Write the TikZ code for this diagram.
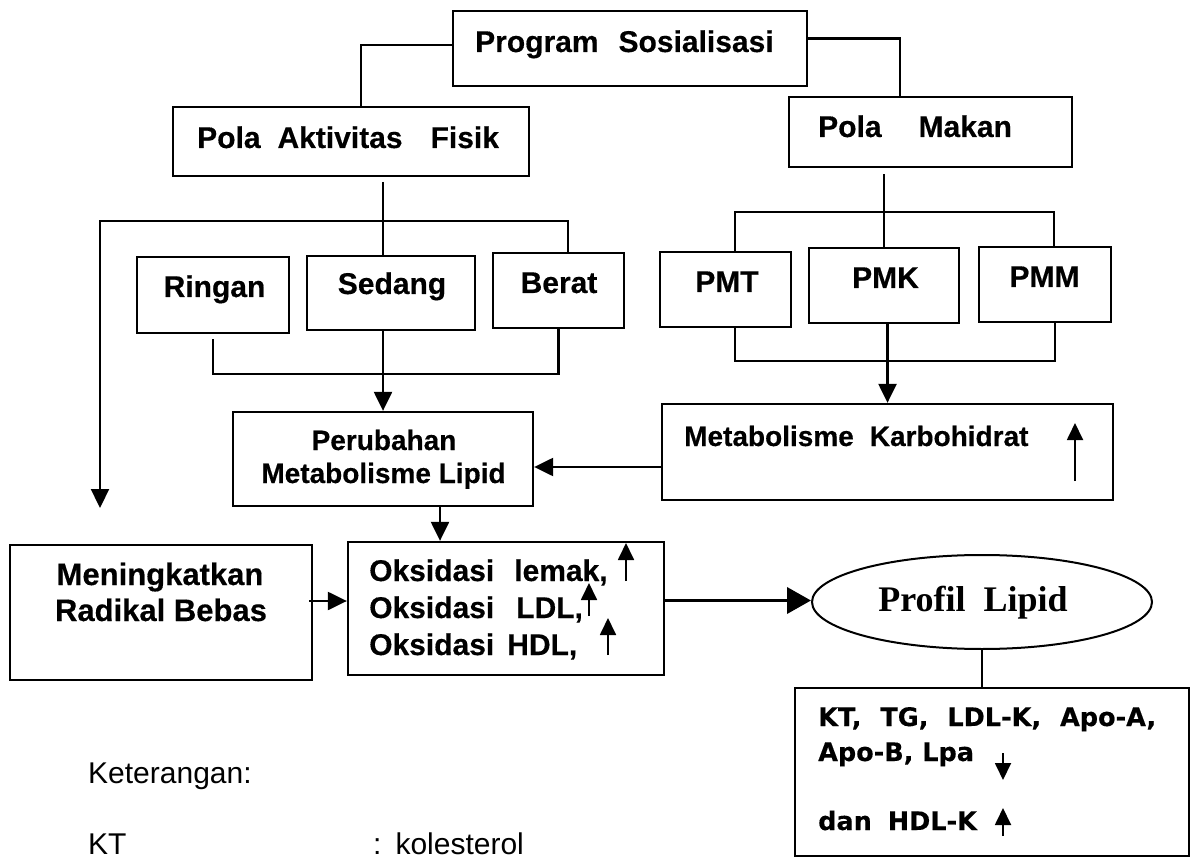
\documentclass[tikz,border=0pt]{standalone}
\usepackage{fontspec}
\setmainfont{Liberation Sans}[BoldFeatures={FakeBold=0.4}]
\newfontfamily\vfont{DejaVu Sans}[BoldFeatures={FakeBold=0.3}]
\newfontfamily\serfont{Liberation Serif}
\usetikzlibrary{arrows.meta,shapes.geometric}
\begin{document}
\begin{tikzpicture}[x=1pt,y=-1pt,
  box/.style={draw,line width=2.3pt,inner sep=0pt},
  t/.style={inner sep=0pt,font=\bfseries\fontsize{30}{36}\selectfont},
  tm/.style={inner sep=0pt,font=\bfseries\fontsize{28}{33}\selectfont},
  tl/.style={inner sep=0pt,font=\bfseries\fontsize{31}{36}\selectfont},
  tv/.style={inner sep=0pt,font=\vfont\bfseries\fontsize{25.5}{30}\selectfont},
  tr/.style={inner sep=0pt,font=\fontsize{30}{36}\selectfont},
  ln/.style={line width=2.3pt},
  arr/.style={line width=2.3pt,-{Triangle[width=18pt,length=19pt]}},
  bigarr/.style={line width=3.8pt,-{Triangle[width=26pt,length=24pt]}},
  sarr/.style={line width=1.8pt,-{Triangle[width=16pt,length=17pt]}}]
\useasboundingbox (0,0) rectangle (1191,858);
% boxes
\node[box,minimum width=354pt,minimum height=75pt] (prog) at (630,48.5) {};
\node[box,minimum width=356pt,minimum height=69pt] (pak) at (351,141.5) {};
\node[box,minimum width=283pt,minimum height=70pt] (pm) at (930.5,132) {};
\node[box,minimum width=152pt,minimum height=76pt] (ringan) at (213,295) {};
\node[box,minimum width=168pt,minimum height=74pt] (sedang) at (391,293) {};
\node[box,minimum width=131pt,minimum height=75pt] (berat) at (558.5,290.5) {};
\node[box,minimum width=131pt,minimum height=75pt] (pmt) at (725.5,289.5) {};
\node[box,minimum width=150pt,minimum height=75pt] (pmk) at (884,285.5) {};
\node[box,minimum width=132pt,minimum height=75pt] (pmm) at (1045,284.5) {};
\node[box,minimum width=300pt,minimum height=94pt] (perub) at (383,459) {};
\node[box,minimum width=451pt,minimum height=96pt] (metk) at (887.5,452) {};
\node[box,minimum width=302pt,minimum height=135pt] (mening) at (161,612.5) {};
\node[box,minimum width=316pt,minimum height=133pt] (oks) at (506,608.5) {};
\node[box,ellipse,line width=2pt,minimum width=340pt,minimum height=94pt] (profil) at (982,602) {};
\node[box,minimum width=394pt,minimum height=168pt] (kt) at (992,772) {};
% texts
\node[t,anchor=base west] (progt) at (475,52) {Program\hspace{20pt}Sosialisasi};
\node[t,anchor=base west] (pakt) at (197,148) {Pola\hspace{17pt}Aktivitas\hspace{28pt}Fisik};
\node[t,anchor=base west] (pmt1) at (818,137) {Pola\hspace{37pt}Makan};
\node[t,anchor=base] (ringant) at (214.5,297) {Ringan};
\node[t,anchor=base] (sedangt) at (392,294) {Sedang};
\node[t,anchor=base] (beratt) at (559,293) {Berat};
\node[t,anchor=base] (pmtt) at (727,292) {PMT};
\node[t,anchor=base] (pmkt) at (885.5,288) {PMK};
\node[t,anchor=base] (pmmt) at (1044.5,287) {PMM};
\node[tm,anchor=base] (perubt1) at (384,450) {Perubahan};
\node[tm,anchor=base] (perubt2) at (383.5,483) {Metabolisme Lipid};
\node[tm,anchor=base west] (metkt) at (684,446) {Metabolisme\hspace{16pt}Karbohidrat};
\node[tl,anchor=base] (meningt1) at (160,585) {Meningkatkan};
\node[tl,anchor=base] (meningt2) at (161,621) {Radikal Bebas};
\node[t,anchor=base west] (oks1) at (369,581) {Oksidasi\hspace{20pt}lemak,};
\node[t,anchor=base west] (oks2) at (369,618) {Oksidasi\hspace{22pt}LDL,};
\node[t,anchor=base west] (oks3) at (369,655) {Oksidasi\hspace{13pt}HDL,};
\node[inner sep=0pt,anchor=base,font=\serfont\bfseries\fontsize{36}{42}\selectfont] (profilt) at (973,611) {Profil\hspace{18pt}Lipid};
\node[tv,anchor=base west] (kt1) at (818,726) {KT,\hspace{19pt}TG,\hspace{19pt}LDL-K,\hspace{19pt}Apo-A,};
\node[tv,anchor=base west] (kt2) at (818,761) {Apo-B, Lpa};
\node[tv,anchor=base west] (kt3) at (818,830) {dan\hspace{16pt}HDL-K};
\node[tr,anchor=base west] (ket) at (88,783) {Keterangan:};
\node[tr,anchor=base west] (ketkt) at (88,854) {KT};
\node[tr,anchor=base west] (ketkol) at (373,854) {:\hspace{14pt}kolesterol};
% junction coordinates
\coordinate (a1) at (383,182);
\coordinate (barL) at (100,221);
\coordinate (barR) at (568,221);
\coordinate (tipL) at (100,508);
\coordinate (rb) at (213,374);
\coordinate (mbL) at (735,212);
\coordinate (mbR) at (1054,212);
\coordinate (mcL) at (735,361);
\coordinate (mcR) at (1055,361);
\coordinate (po) at (440,0);
% connectors
\draw[ln] ([yshift=3.5pt]prog.west) -| ([xshift=10pt]pak.north);
\draw[ln] ([yshift=10pt]prog.east) -| ([xshift=-30.5pt]pm.north);
\draw[ln] (a1) -- (a1 |- sedang.north);
\draw[arr] (barR |- berat.north) -- (barR) -- (barL) -- (tipL);
\draw[ln] ([yshift=-5pt]ringan.south) -- (rb) -- (rb -| berat.south) -- (berat.south);
\draw[arr] (perub.north |- sedang.south) -- (perub.north);
\draw[ln] ([yshift=-6pt]pm.south -| pmk.north) -- (pmk.north);
\draw[ln] (mbL |- pmt.north) -- (mbL) -- (mbR) -- (mbR |- pmm.north);
\draw[ln] (mcL |- pmt.south) -- (mcL) -- (mcR) -- (mcR |- pmm.south);
\draw[arr] (metk.north |- pmk.south) -- (metk.north);
\draw[arr] ([yshift=-15pt]metk.west) -- ([yshift=-15pt]metk.west -| perub.east);
\draw[arr] (po |- perub.south) -- (po |- oks.north);
\draw[arr] ([yshift=11.5pt,xshift=-4pt]mening.east) -- ([yshift=11.5pt]mening.east -| oks.west);
\draw[bigarr] ([yshift=8pt]oks.east) -- ([yshift=8pt]oks.east -| profil.west);
\draw[ln] (profil.south) -- (profil.south |- kt.north);
% small indicator arrows
\coordinate (u1b) at (1075,481); \coordinate (u1t) at (1075,423);
\coordinate (u2b) at (626,581); \coordinate (u2t) at (626,543);
\coordinate (u3b) at (589,616); \coordinate (u3t) at (589,583);
\coordinate (u4b) at (608,655); \coordinate (u4t) at (608,618);
\coordinate (d1t) at (1003,753); \coordinate (d1b) at (1003,780);
\coordinate (u5b) at (1003,836); \coordinate (u5t) at (1003,808);
\draw[sarr] (u1b) -- (u1t);
\draw[sarr] (u2b) -- (u2t);
\draw[sarr] (u3b) -- (u3t);
\draw[sarr] (u4b) -- (u4t);
\draw[sarr] (d1t) -- (d1b);
\draw[sarr] (u5b) -- (u5t);
\end{tikzpicture}
\end{document}
